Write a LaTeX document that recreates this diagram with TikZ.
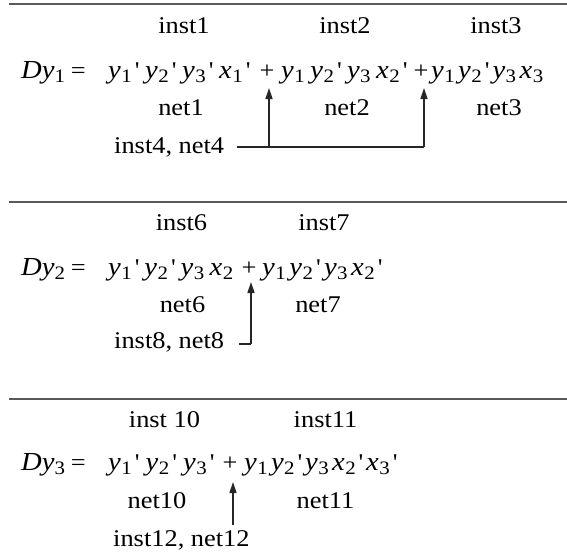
\documentclass[tikz,border=0pt]{standalone}
\usepackage{fontspec}
\setmainfont[FakeStretch=1.1]{Liberation Serif}
\usetikzlibrary{arrows.meta}
\newcommand\Sb[1]{\raisebox{-0.2em}{\fontsize{19}{19}\selectfont #1}}
\newcommand\Lt[1]{{\fontsize{26}{28}\selectfont\itshape #1}}
\newcommand\V[2]{\Lt{#1}\kern0.5pt\Sb{#2}}
\newcommand\Q{\kern3pt\textquotesingle}
\newcommand\G{\hskip 2pt plus 1fil minus 2pt}
\newcommand\Term[2]{\hbox to #1{#2}}
\tikzset{
  lbl/.style={inner sep=0pt, anchor=base, font=\fontsize{24}{28}\selectfont},
  lblw/.style={inner sep=0pt, anchor=base west, font=\fontsize{24}{28}\selectfont},
  rule/.style={line width=2pt, draw=black!65},
  conn/.style={line width=1.5pt, draw=black!85},
  arr/.style={line width=1.5pt, draw=black!85, -{Triangle[length=11pt,width=7pt]}}
}
\begin{document}
\begin{tikzpicture}[x=1pt,y=-1pt]
\useasboundingbox (0,0) rectangle (567,554);
% rules
\coordinate (r1a) at (9,4); \coordinate (r1b) at (567,4);
\coordinate (r2a) at (9,202); \coordinate (r2b) at (567,202);
\coordinate (r3a) at (9,399); \coordinate (r3b) at (567,399);
\draw[rule] (r1a) -- (r1b);
\draw[rule] (r2a) -- (r2b);
\draw[rule] (r3a) -- (r3b);
% ---------- section 1
\node[lbl] (i1) at (184,33) {inst1};
\node[lbl] (i2) at (345,33) {inst2};
\node[lbl] (i3) at (496,33) {inst3};
\node[lblw] (d1) at (21,78) {\Lt{Dy}\Sb{1}\kern6pt=};
\node[lblw] (e1a) at (108,78) {\Term{142pt}{\V{y}{1}\Q\G\V{y}{2}\Q\G\V{y}{3}\Q\G\V{x}{1}\Q}};
\node[lbl] (p1a) at (267,78) {+};
\node[lblw] (e1b) at (281,78) {\Term{126pt}{\V{y}{1}\G\V{y}{2}\Q\G\V{y}{3}\G\V{x}{2}\Q}};
\node[lbl] (p1b) at (421,78) {+};
\node[lblw] (e1c) at (431,78) {\Term{112pt}{\V{y}{1}\G\V{y}{2}\Q\G\V{y}{3}\G\V{x}{3}}};
\node[lbl] (n1) at (181,115) {net1};
\node[lbl] (n2) at (347,115) {net2};
\node[lbl] (n3) at (499,115) {net3};
\node[lblw] (l4) at (114,153) {inst4, net4};
\coordinate (c1) at (269,147);
\coordinate (c2) at (424,147);
\coordinate (t1) at (269,88);
\coordinate (t2) at (424,88);
\draw[conn] (l4.east |- c1) ++(13,0) -- (c2);
\draw[arr] (c1) -- (t1);
\draw[arr] (c2) -- (t2);
% ---------- section 2
\node[lbl] (i6) at (181.5,230) {inst6};
\node[lbl] (i7) at (324,230) {inst7};
\node[lblw] (d2) at (21,275) {\Lt{Dy}\Sb{2}\kern6pt=};
\node[lblw] (e2a) at (108,275) {\Term{125pt}{\V{y}{1}\Q\G\V{y}{2}\Q\G\V{y}{3}\G\V{x}{2}}};
\node[lbl] (p2a) at (249,275) {+};
\node[lblw] (e2b) at (262,275) {\Term{120pt}{\V{y}{1}\G\V{y}{2}\Q\G\V{y}{3}\G\V{x}{2}\Q}};
\node[lbl] (n6) at (182.5,312) {net6};
\node[lbl] (n7) at (318,312) {net7};
\node[lblw] (l8) at (114,348) {inst8, net8};
\coordinate (c3) at (251,344);
\coordinate (t3) at (251,282);
\draw[conn] (l8.east |- c3) ++(15,0) -- (c3);
\draw[arr] (c3) -- (t3);
% ---------- section 3
\node[lbl] (i10) at (164.5,427) {inst 10};
\node[lbl] (i11) at (325.5,427) {inst11};
\node[lblw] (d3) at (21,470) {\Lt{Dy}\Sb{3}\kern6pt=};
\node[lblw] (e3a) at (108,470) {\Term{106pt}{\V{y}{1}\Q\G\V{y}{2}\Q\G\V{y}{3}\Q}};
\node[lbl] (p3a) at (230,470) {+};
\node[lblw] (e3b) at (244,470) {\Term{153pt}{\V{y}{1}\G\V{y}{2}\Q\G\V{y}{3}\G\V{x}{2}\Q\G\V{x}{3}\Q}};
\node[lbl] (n10) at (157,508) {net10};
\node[lbl] (n11) at (325.5,508) {net11};
\node[lblw] (l12) at (113,546) {inst12, net12};
\coordinate (t4) at (233,482);
\draw[arr] (l12.north -| t4) ++(0,-5) -- (t4);
\end{tikzpicture}
\end{document}
